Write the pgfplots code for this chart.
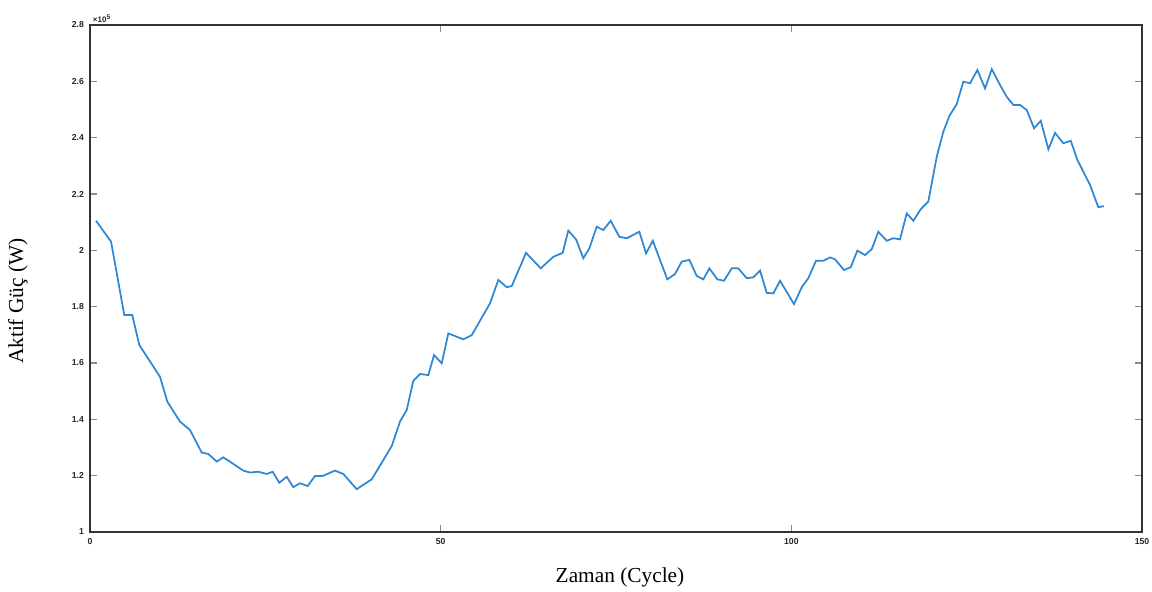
\documentclass[border=0pt]{standalone}
\usepackage{pgfplots}
\pgfplotsset{compat=1.18}
\usepackage{fontspec}
\setmainfont{Liberation Serif}
\setsansfont{Liberation Sans}
\usetikzlibrary{calc}
\definecolor{lineblue}{RGB}{45,135,212}

\pgfplotstableread{
x y
0.86 2.105
3.00 2.031
4.89 1.770
6.03 1.770
7.03 1.664
9.98 1.551
11.02 1.463
12.83 1.392
14.26 1.362
15.93 1.282
16.87 1.277
18.07 1.250
19.01 1.265
21.86 1.218
22.81 1.211
24.00 1.214
25.20 1.206
26.05 1.214
26.99 1.175
28.05 1.196
28.99 1.159
29.94 1.173
31.04 1.163
32.08 1.199
33.18 1.199
34.93 1.218
36.12 1.206
38.03 1.152
40.17 1.187
43.02 1.305
44.20 1.392
45.16 1.433
46.10 1.537
47.06 1.561
48.24 1.557
49.05 1.628
50.15 1.599
51.09 1.705
53.23 1.684
54.43 1.699
57.04 1.812
58.22 1.895
59.42 1.869
60.13 1.873
62.17 1.991
64.27 1.936
66.06 1.977
67.40 1.991
68.20 2.070
69.30 2.039
70.34 1.972
71.20 2.007
72.25 2.084
73.19 2.072
74.25 2.105
75.47 2.048
76.53 2.043
78.33 2.066
79.28 1.989
80.24 2.034
82.32 1.897
83.42 1.916
84.37 1.960
85.46 1.966
86.51 1.909
87.45 1.897
88.31 1.936
89.45 1.897
90.40 1.892
91.50 1.936
92.44 1.936
93.64 1.901
94.58 1.904
95.54 1.928
96.49 1.849
97.43 1.847
98.39 1.892
100.38 1.809
101.48 1.869
102.42 1.901
103.52 1.963
104.56 1.963
105.52 1.975
106.23 1.968
107.51 1.930
108.47 1.940
109.41 1.999
110.51 1.983
111.46 2.004
112.40 2.066
113.60 2.034
114.54 2.043
115.50 2.039
116.45 2.131
117.40 2.105
118.45 2.146
119.53 2.173
120.73 2.332
121.67 2.421
122.53 2.477
123.58 2.519
124.52 2.599
125.48 2.593
126.52 2.640
127.62 2.575
128.58 2.643
129.76 2.587
130.71 2.545
131.66 2.516
132.61 2.516
133.57 2.498
134.61 2.433
135.56 2.460
136.65 2.359
137.60 2.417
138.78 2.380
139.84 2.389
140.78 2.321
142.59 2.232
143.77 2.153
144.59 2.157
}\power

\begin{document}
\begin{tikzpicture}
\begin{axis}[
   scale only axis, width=789pt, height=380.25pt,
   xmin=0, xmax=150, ymin=1, ymax=2.8,
   xtick={0,50,100,150},
   ytick={1,1.2,1.4,1.6,1.8,2,2.2,2.4,2.6,2.8},
   tick align=inside, major tick length=5pt,
   tick style={black!45, line width=0.9pt},
   axis line style={black!80, line width=1.4pt},
   tick label style={font=\sffamily\bfseries\fontsize{6.5}{7}\selectfont, text=black!85},
   /pgf/number format/assume math mode=true,
   xticklabel style={yshift=-1pt},
   yticklabel style={xshift=-1pt},
   clip=false,
]
\addplot[lineblue, line width=1.3pt] table[x=x,y=y] {\power};
\coordinate (sw) at (rel axis cs:0,0);
\coordinate (ne) at (rel axis cs:1,1);
\end{axis}
\node[anchor=south west, font=\sffamily\bfseries\fontsize{6}{7}\selectfont, text=black!85, inner sep=0pt]
   at ($(sw|-ne)+(2pt,1.5pt)$) {×10\textsuperscript{5}};
\node[rotate=90, font=\fontsize{16}{18}\selectfont] at ($(sw)!0.5!(sw|-ne)+(-54pt,-17pt)$) {Aktif Güç (W)};
\node[font=\fontsize{16}{18}\selectfont] at ($(sw)!0.5!(ne|-sw)+(3pt,-33.75pt)$) {Zaman (Cycle)};
\pgfresetboundingbox
\path ($(sw)+(-67.5pt,-45pt)$) rectangle ($(ne)+(7.5pt,18.75pt)$);
\end{tikzpicture}
\end{document}
